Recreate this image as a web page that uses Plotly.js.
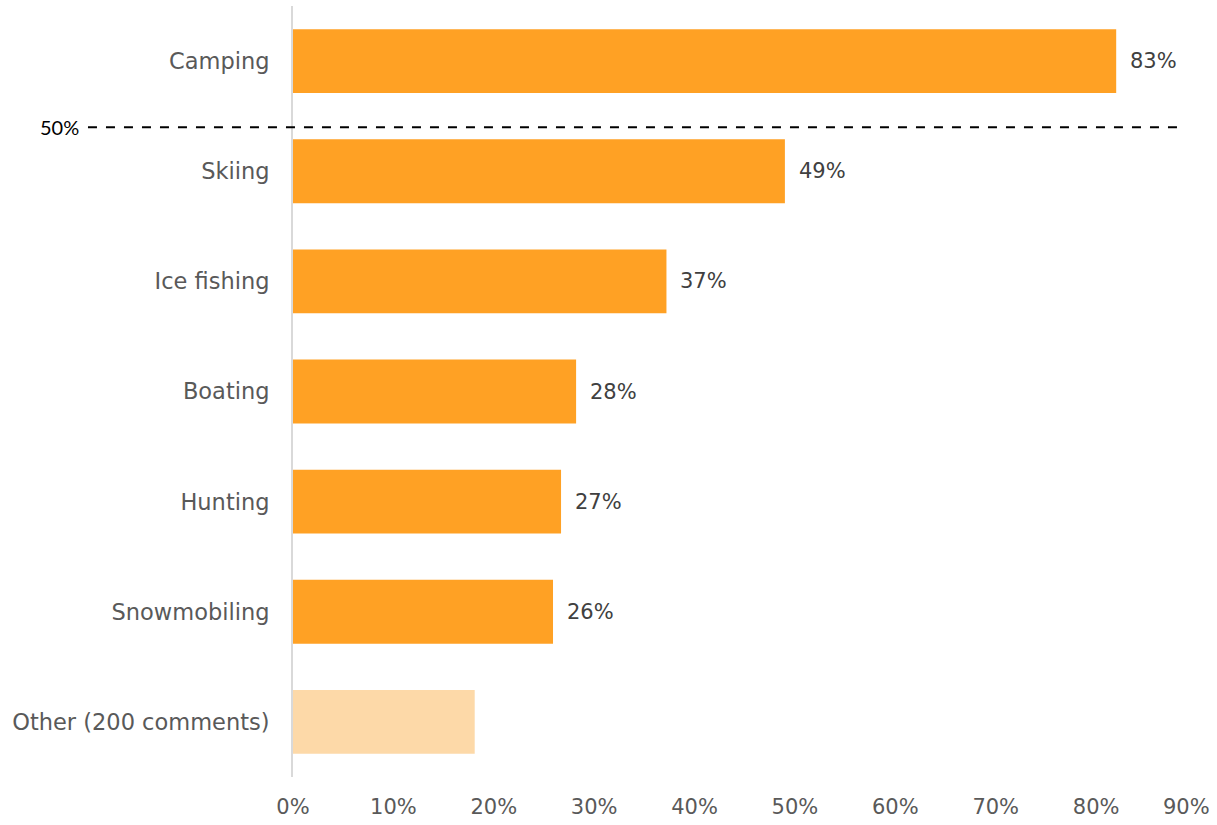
<!DOCTYPE html>
<html><head><meta charset="utf-8">
<script src="https://cdn.plot.ly/plotly-3.0.1.min.js"></script>
<style>html,body{margin:0;padding:0;background:#fff}#chart{width:1217px;height:825px}</style>
</head><body><div id="chart"></div>
<script>
const categories = ["Camping","Skiing","Ice fishing","Boating","Hunting","Snowmobiling","Other (200 comments)"];
const values = [0.82,0.49,0.372,0.282,0.267,0.259,0.181];
const valueLabels = ["83%","49%","37%","28%","27%","26%",""];
const barColors = ["#FFA124","#FFA124","#FFA124","#FFA124","#FFA124","#FFA124","#FDD9A8"];
const xTicks = [0,0.1,0.2,0.3,0.4,0.5,0.6,0.7,0.8,0.9];
const xTickLabels = ["0%","10%","20%","30%","40%","50%","60%","70%","80%","90%"];
const refLineLabel = "50%";
const refLinePos = 0.6;

const font = "'DejaVu Sans', sans-serif";
const tickFont = {family:font,size:21,color:'#595959'};
const annotations = categories.map((c,i)=>({
  x: values[i], y: c, xref:'x', yref:'y', text: valueLabels[i], showarrow:false,
  xanchor:'left', xshift:12, font:{family:font,size:21,color:'#404040'}
})).filter(a=>a.text);
annotations.push({x:-0.235, y:refLinePos, xref:'paper', yref:'y', text:refLineLabel, showarrow:false,
  xanchor:'right', font:{family:"Lato, sans-serif",size:20,color:'#000'}});
// last tick label kept inside the page edge, as in the reference
const last = xTicks.length-1;
annotations.push({x:xTicks[last], y:0, xref:'x', yref:'paper', text:xTickLabels[last], showarrow:false,
  xanchor:'right', yanchor:'top', xshift:14, yshift:-17, borderpad:0, font:tickFont});

Plotly.newPlot('chart',[{
  type:'bar', orientation:'h', y:categories, x:values,
  marker:{color:barColors}, width:0.58, hoverinfo:'skip'
}],{
  width:1217,height:825,
  margin:{l:293,r:20,t:6,b:48},
  paper_bgcolor:'#fff',plot_bgcolor:'#fff',
  showlegend:false,
  xaxis:{range:[0,0.9005],tickvals:xTicks.slice(0,last),ticktext:xTickLabels.slice(0,last),showgrid:false,zeroline:false,
    showline:false,ticks:'',ticklabelstandoff:15,tickfont:tickFont},
  yaxis:{type:'category',range:[6.5,-0.5],showgrid:false,zeroline:false,showline:true,
    linecolor:'#d9d9d9',linewidth:2,ticks:'',ticklabelstandoff:17,
    tickfont:{family:font,size:22.5,color:'#595959'}},
  shapes:[{type:'line',xref:'paper',yref:'y',x0:-0.2268,x1:0.9845,y0:refLinePos,y1:refLinePos,
    line:{color:'#000',width:2,dash:'dash'}}],
  annotations:annotations
},{displayModeBar:false});
</script></body></html>
